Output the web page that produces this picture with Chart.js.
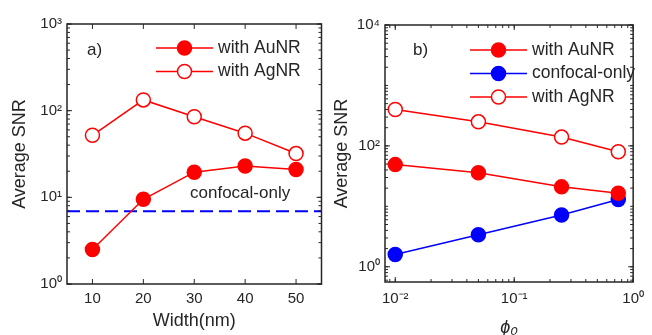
<!DOCTYPE html>
<html>
<head>
<meta charset="utf-8">
<script src="https://cdn.jsdelivr.net/npm/chart.js@4.4.0/dist/chart.umd.min.js"></script>
<style>
  body { margin: 0; background: #fff; }
  #wrap { position: relative; width: 652px; height: 335px; overflow: hidden; }
  canvas { position: absolute; top: 0; }
</style>
</head>
<body>
<div id="wrap">
  <canvas id="chartA" width="330" height="335" style="left:0"></canvas>
  <canvas id="chartB" width="322" height="335" style="left:330px"></canvas>
</div>
<script>
// panel a) data
const widths = [10, 20, 30, 40, 50];
const snrAuA = [2.5, 9.5, 19.5, 23, 21];
const snrAgA = [52, 133, 85, 55, 32];
const confocalA = 6.9;
const xTicksA = [10, 20, 30, 40, 50];
const yTicksA = [1, 10, 100, 1000];

// panel b) data
const phi0 = [0.01, 0.05, 0.25, 0.75];
const snrAuB = [49, 36, 21, 16.5];
const snrConfB = [1.6, 3.4, 7.2, 13];
const snrAgB = [400, 250, 140, 80];
const xTicksB = [0.01, 0.1, 1];
const yTicksB = [1, 100, 10000];

const RED = '#ff0000';
const BLUE = '#0000ff';
const INK = '#262626';
const FONT = "'Liberation Sans', Arial, sans-serif";

const SUP = { '-': '\u207B', '0': '\u2070', '1': '\u00B9', '2': '\u00B2', '3': '\u00B3', '4': '\u2074' };
function pow10Label(v) {
  const e = Math.round(Math.log10(v));
  return '10' + String(e).split('').map(c => SUP[c]).join('');
}

function logMinors(min, max) {
  const out = [];
  for (let e = Math.floor(Math.log10(min)); e <= Math.ceil(Math.log10(max)); e++) {
    for (let m = 1; m < 10; m++) {
      const v = m * Math.pow(10, e);
      if (v >= min && v <= max) out.push(v);
    }
  }
  return out;
}

// box, inward ticks on all four sides, legend and notes
const matlabBox = {
  id: 'matlabBox',
  afterDraw(chart, args, opts) {
    const { ctx, chartArea: a, scales: { x, y } } = chart;
    ctx.save();
    ctx.strokeStyle = INK;
    ctx.lineWidth = 1;
    const seg = (x1, y1, x2, y2) => { ctx.beginPath(); ctx.moveTo(x1, y1); ctx.lineTo(x2, y2); ctx.stroke(); };
    const xt = (v, len) => { const p = x.getPixelForValue(v); seg(p, a.bottom, p, a.bottom - len); seg(p, a.top, p, a.top + len); };
    const yt = (v, len) => { const p = y.getPixelForValue(v); seg(a.left, p, a.left + len, p); seg(a.right, p, a.right - len, p); };
    if (x.type === 'logarithmic') logMinors(x.min, x.max).forEach(v => xt(v, 3));
    x.ticks.forEach(t => xt(t.value, 5));
    logMinors(y.min, y.max).forEach(v => yt(v, 3));
    y.ticks.forEach(t => yt(t.value, 5));
    ctx.lineWidth = 1.5;
    ctx.strokeRect(a.left, a.top, a.width, a.height);

    ctx.font = '17px ' + FONT;
    ctx.fillStyle = INK;
    ctx.textBaseline = 'middle';
    ctx.fillText(opts.tag, opts.tagX, opts.tagY);
    (opts.notes || []).forEach(n => ctx.fillText(n.text, n.x, n.y));

    ctx.font = '17.5px ' + FONT;
    const L = opts.legend;
    L.items.forEach((it, i) => {
      const yy = L.y + i * L.dy;
      ctx.strokeStyle = it.color;
      ctx.lineWidth = 1.5;
      seg(L.x1, yy, L.x2, yy);
      ctx.beginPath();
      ctx.arc((L.x1 + L.x2) / 2, yy, 7, 0, Math.PI * 2);
      ctx.fillStyle = it.open ? '#fff' : it.color;
      ctx.fill();
      ctx.stroke();
      ctx.fillStyle = INK;
      ctx.fillText(it.label, L.x2 + 5, yy);
    });
    ctx.restore();
  }
};

function series(xs, ys, color, open) {
  return {
    data: xs.map((v, i) => ({ x: v, y: ys[i] })),
    borderColor: color,
    backgroundColor: open ? '#fff' : color,
    pointBackgroundColor: open ? '#fff' : color,
    pointBorderColor: color,
    borderWidth: 1.5,
    pointBorderWidth: 1.5,
    pointRadius: 7,
    clip: false
  };
}

function axis(type, min, max, ticks, size, pad, title, titlePad, italic) {
  return {
    type: type, min: min, max: max,
    afterBuildTicks: s => { s.ticks = ticks.map(v => ({ value: v })); },
    afterFit: s => { if (s.isHorizontal()) s.height = size; else s.width = size; },
    grid: { display: false, drawTicks: false },
    border: { display: false },
    ticks: {
      color: INK, padding: pad, maxRotation: 0, autoSkip: false,
      font: { family: FONT, size: 15 },
      callback: v => type === 'logarithmic' ? pow10Label(v) : String(v)
    },
    title: {
      display: true, text: title, color: INK, padding: titlePad,
      font: { family: FONT, size: 18, style: italic ? 'italic' : 'normal' }
    }
  };
}

new Chart(document.getElementById('chartA'), {
  type: 'line',
  data: {
    datasets: [
      series(widths, snrAuA, RED, false),
      series(widths, snrAgA, RED, true),
      {
        data: [{ x: 5, y: confocalA }, { x: 55, y: confocalA }],
        borderColor: BLUE, borderWidth: 2, borderDash: [13, 6], pointRadius: 0
      }
    ]
  },
  options: {
    responsive: false, animation: false,
    layout: { padding: { top: 24, right: 7, left: 0, bottom: 0 } },
    plugins: {
      legend: { display: false }, tooltip: { enabled: false },
      matlabBox: {
        tag: 'a)', tagX: 87, tagY: 50,
        notes: [{ text: 'confocal-only', x: 190, y: 193 }],
        legend: { x1: 156, x2: 213, y: 48, dy: 23.5, items: [
          { label: 'with AuNR', color: RED, open: false },
          { label: 'with AgNR', color: RED, open: true }
        ] }
      }
    },
    scales: {
      x: axis('linear', 5, 55, xTicksA, 51, 6, 'Width(nm)', { top: 0, bottom: 3 }),
      y: axis('logarithmic', 1, 1000, yTicksA, 67, 5, 'Average SNR', { top: 9, bottom: 0 })
    }
  },
  plugins: [matlabBox]
});

new Chart(document.getElementById('chartB'), {
  type: 'line',
  data: {
    datasets: [
      series(phi0, snrAuB, RED, false),
      series(phi0, snrConfB, BLUE, false),
      series(phi0, snrAgB, RED, true)
    ]
  },
  options: {
    responsive: false, animation: false,
    layout: { padding: { top: 25, right: 12, left: 0, bottom: 0 } },
    plugins: {
      legend: { display: false }, tooltip: { enabled: false },
      matlabBox: {
        tag: 'b)', tagX: 83, tagY: 50,
        legend: { x1: 140, x2: 197, y: 50, dy: 23.5, items: [
          { label: 'with AuNR', color: RED, open: false },
          { label: 'confocal-only', color: BLUE, open: false },
          { label: 'with AgNR', color: RED, open: true }
        ] }
      }
    },
    scales: {
      x: axis('logarithmic', 0.0082, 1, xTicksB, 53, 8, '\u03D5\u2080', { top: 0, bottom: -4 }, true),
      y: axis('logarithmic', 0.56, 10000, yTicksB, 55, 5, 'Average SNR', { top: 1, bottom: 0 })
    }
  },
  plugins: [matlabBox]
});
</script>
</body>
</html>
